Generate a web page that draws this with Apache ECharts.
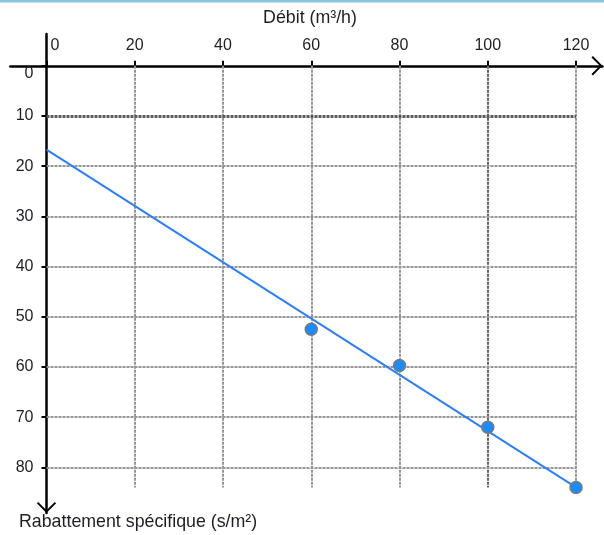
<!DOCTYPE html>
<html>
<head>
<meta charset="utf-8">
<script src="https://cdn.jsdelivr.net/npm/echarts@6/dist/echarts.min.js"></script>
<style>
html,body{margin:0;padding:0;background:#fff;}
#chart{width:604px;height:535px;}
</style>
</head>
<body>
<div id="chart"></div>
<script>
// ---- data ----
const xTicks = [0, 20, 40, 60, 80, 100, 120];
const yTicks = [0, 10, 20, 30, 40, 50, 60, 70, 80];
const debit = [60, 80, 100, 120];
const rabattement = [52.5, 59.7, 72.0, 84.0];
const trendDebit = [0, 120];
const trendRabattement = [16.7, 84.0];
const xName = 'Débit (m³/h)';
const yName = 'Rabattement spécifique (s/m²)';

// ---- styles / layout ----
const FONT = 'Liberation Sans, Arial, sans-serif';
const TEXT = '#1e1e24';
const chevron = 'path://M0,10 L10,0 L20,10 L18.6,11.4 L10,2.8 L1.4,11.4 Z';

const gridX0 = xTicks[0], gridX1 = xTicks[xTicks.length - 1];
const gridY0 = yTicks[0], gridY1 = Math.max(...rabattement);

function gl(color, width) {
  return { color: color, width: width, type: [3, 1] };
}
const gridLines = [];
xTicks.slice(1).forEach(function (x) {
  gridLines.push([
    { coord: [x, gridY0], lineStyle: x === 100 ? gl('#666666', 2) : gl('#959595', 2) },
    { coord: [x, gridY1] }
  ]);
});
yTicks.slice(1).forEach(function (y) {
  gridLines.push([
    { coord: [gridX0, y], lineStyle: y === 10 ? gl('#5a5a5a', 3) : gl('#959595', 2) },
    { coord: [gridX1, y] }
  ]);
});

const X_MAX = 126, Y_MAX = 89.1;

const chart = echarts.init(document.getElementById('chart'), null, { renderer: 'canvas' });
chart.setOption({
  animation: false,
  backgroundColor: '#fff',
  textStyle: { fontFamily: FONT },
  title: {
    text: yName,
    left: 14,
    top: 508,
    textStyle: { fontFamily: FONT, fontSize: 17.8, fontWeight: 'normal', color: TEXT }
  },
  graphic: [{
    type: 'rect', left: 0, top: 0,
    shape: { width: 604, height: 2.5 },
    style: { fill: '#86c5da' }
  }],
  grid: [
    // data grid: its left/top edges are the axes (value 0)
    { left: 46.5, top: 65.8, width: 556, height: 447.2, containLabel: false, outerBoundsMode: 'none' },
    // extended grid used only to draw the long axis lines with arrows
    { left: 10.3, top: 34, width: 592.2, height: 479, containLabel: false, outerBoundsMode: 'none' }
  ],
  xAxis: [
    {
      gridIndex: 0,
      type: 'value',
      position: 'top',
      min: 0,
      max: X_MAX,
      name: xName,
      nameLocation: 'middle',
      nameGap: 39,
      nameTextStyle: { fontFamily: FONT, fontSize: 17.8, color: TEXT, padding: [0, 29, 0, 0] },
      axisLine: { show: false },
      axisTick: { show: true, customValues: xTicks, length: 5, lineStyle: { color: '#000', width: 2 } },
      axisLabel: {
        customValues: xTicks,
        margin: 12,
        hideOverlap: false,
        fontFamily: FONT,
        fontSize: 16,
        color: TEXT,
        formatter: function (v) { return v === 0 ? '{z|0}' : String(v); },
        rich: { z: { fontFamily: FONT, fontSize: 16, color: TEXT, padding: [0, 0, 0, 17] } }
      },
      splitLine: { show: false }
    },
    {
      gridIndex: 1,
      type: 'value',
      position: 'top',
      min: -8.2,
      max: X_MAX,
      axisLine: {
        onZero: true,
        lineStyle: { color: '#000', width: 2.5 },
        symbol: ['none', chevron],
        symbolSize: [20, 11],
        symbolOffset: [5.5, -5.5]
      },
      axisTick: { show: false },
      axisLabel: { show: false },
      splitLine: { show: false }
    }
  ],
  yAxis: [
    {
      gridIndex: 0,
      type: 'value',
      inverse: true,
      position: 'left',
      min: 0,
      max: Y_MAX,
      axisLine: { show: false },
      axisTick: { show: true, customValues: yTicks, length: 5, lineStyle: { color: '#000', width: 2 } },
      axisLabel: {
        customValues: yTicks,
        margin: 13,
        hideOverlap: false,
        fontFamily: FONT,
        fontSize: 16,
        color: TEXT,
        formatter: function (v) { return v === 0 ? '{z|0}' : String(v); },
        rich: { z: { fontFamily: FONT, fontSize: 16, color: TEXT, padding: [16, 0, 0, 0] } }
      },
      splitLine: { show: false }
    },
    {
      gridIndex: 1,
      type: 'value',
      inverse: true,
      position: 'left',
      min: -6.33,
      max: Y_MAX,
      axisLine: {
        onZero: true,
        lineStyle: { color: '#000', width: 2.5 },
        symbol: [chevron, 'none'],
        symbolSize: [20, 11],
        symbolOffset: [5.5, -5.5]
      },
      axisTick: { show: false },
      axisLabel: { show: false },
      splitLine: { show: false }
    }
  ],
  series: [
    {
      type: 'line',
      xAxisIndex: 0,
      yAxisIndex: 0,
      data: [],
      z: 1,
      silent: true,
      markLine: {
        z: 1,
        silent: true,
        symbol: ['none', 'none'],
        label: { show: false },
        animation: false,
        data: gridLines
      }
    },
    {
      type: 'line',
      xAxisIndex: 0,
      yAxisIndex: 0,
      z: 3,
      data: trendDebit.map(function (x, i) { return [x, trendRabattement[i]]; }),
      showSymbol: false,
      symbol: 'none',
      lineStyle: { color: '#2f7ff0', width: 2 }
    },
    {
      type: 'scatter',
      xAxisIndex: 0,
      yAxisIndex: 0,
      z: 4,
      data: debit.map(function (x, i) { return [x, rabattement[i]]; }),
      symbolSize: 12,
      itemStyle: { color: '#1a8cff', borderColor: '#7a7a7a', borderWidth: 1.5, opacity: 1 }
    }
  ]
});
</script>
</body>
</html>
